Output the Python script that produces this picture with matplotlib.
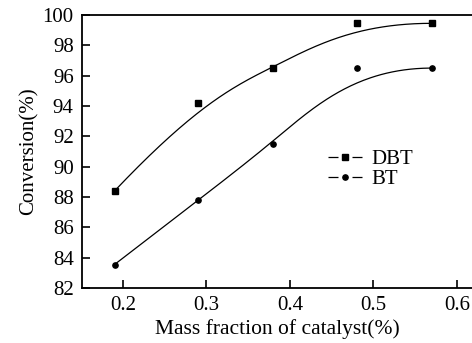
import numpy as np
import matplotlib
matplotlib.use("Agg")
import matplotlib.pyplot as plt
from matplotlib.lines import Line2D

plt.rcParams['font.family'] = ['Liberation Serif', 'DejaVu Serif']

mass_fraction = [0.19, 0.29, 0.38, 0.48, 0.57]
dbt_conversion = [88.4, 94.2, 96.5, 99.45, 99.45]
bt_conversion = [83.55, 87.8, 91.5, 96.5, 96.5]

x_ticks = [0.2, 0.3, 0.4, 0.5, 0.6]
y_ticks = [82, 84, 86, 88, 90, 92, 94, 96, 98, 100]


def bspline(px, py, n=200):
    # clamped cubic B-spline using the data points as control points
    px = np.asarray(px, float)
    py = np.asarray(py, float)
    k = 3
    m = len(px)
    inner = np.linspace(0, 1, m - k + 1)
    knots = np.concatenate([[0] * k, inner, [1] * k])
    t = np.linspace(0, 1, n)
    t[-1] = 1 - 1e-12

    def basis(i, d, t):
        if d == 0:
            return ((knots[i] <= t) & (t < knots[i + 1])).astype(float)
        out = np.zeros_like(t)
        den1 = knots[i + d] - knots[i]
        den2 = knots[i + d + 1] - knots[i + 1]
        if den1 > 0:
            out += (t - knots[i]) / den1 * basis(i, d - 1, t)
        if den2 > 0:
            out += (knots[i + d + 1] - t) / den2 * basis(i + 1, d - 1, t)
        return out

    B = np.array([basis(i, k, t) for i in range(m)])
    return B.T @ px, B.T @ py


fig = plt.figure(figsize=(4.72, 3.43), dpi=100)
ax = fig.add_axes([0.1737, 0.1603, 0.8263, 0.796])

for yv, mk in [(dbt_conversion, 's'), (bt_conversion, 'o')]:
    cx, cy = bspline(mass_fraction, yv)
    ax.plot(cx, cy, color='black', lw=0.9)
    ax.plot(mass_fraction, yv, linestyle='none', marker=mk, color='black', markersize=3.8)

# legend handle: dash, marker, dash
dash = (0, (8.0, 11.2))
handles = [
    Line2D([], [], color='black', lw=0.9, linestyle=dash, marker='s', markersize=3.8),
    Line2D([], [], color='black', lw=0.9, linestyle=dash, marker='o', markersize=3.8),
]
ax.legend(handles, ['DBT', 'BT'], loc='upper left', bbox_to_anchor=(0.61, 0.538),
          frameon=False, fontsize=15, handlelength=1.63, handletextpad=0.45,
          labelspacing=0.02, borderaxespad=0)

ax.set_xlim(0.151, 0.618)
ax.set_ylim(82, 100)
ax.set_xticks(x_ticks)
ax.set_xticklabels([f'{v:.1f}' for v in x_ticks])
ax.set_yticks(y_ticks)
ax.tick_params(direction='in', length=6, width=1.2, labelsize=15, pad=6)
ax.spines['right'].set_visible(False)
for s in ['left', 'bottom', 'top']:
    ax.spines[s].set_linewidth(1.3)

ax.set_xlabel('Mass fraction of catalyst(%)', fontsize=15.5, labelpad=3)
ax.set_ylabel('Conversion(%)', fontsize=15, labelpad=3)

fig.savefig('out.png', dpi=100)
